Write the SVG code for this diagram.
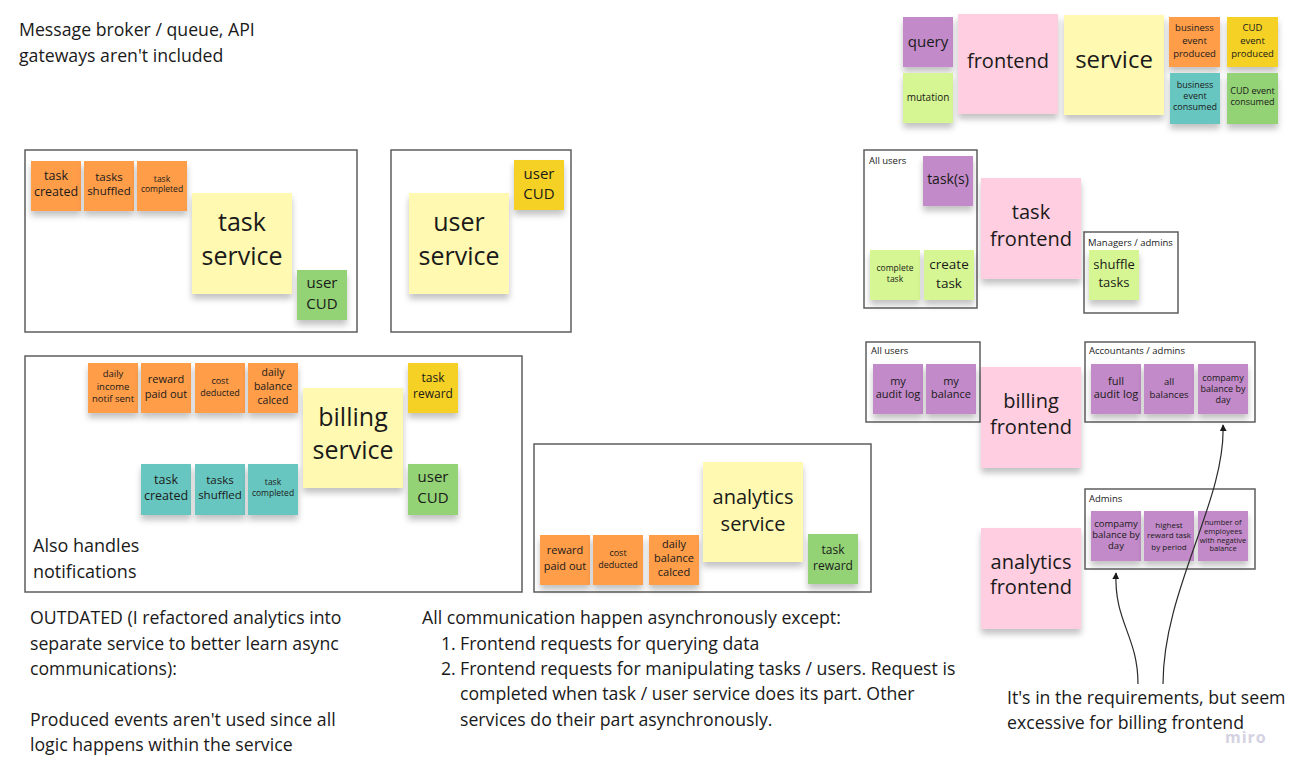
<svg xmlns="http://www.w3.org/2000/svg" width="1295" height="771" viewBox="0 0 1295 771">
<defs>
<filter id="sh" x="-20%" y="-20%" width="140%" height="150%">
<feDropShadow dx="0" dy="5" stdDeviation="3" flood-color="#000" flood-opacity="0.24"/>
</filter>
<marker id="ah" viewBox="0 0 10 10" refX="9" refY="5" markerWidth="7" markerHeight="7" orient="auto-start-reverse" markerUnits="userSpaceOnUse">
<path d="M0,0 L10,5 L0,10 z" fill="#1a1a1a"/>
</marker>
</defs>
<style>
text{font-family:"Open Sans","Noto Sans","Liberation Sans",sans-serif;fill:#1a1a1a}
.st text{text-anchor:middle}
.st rect{filter:url(#sh)}
.or{fill:#ff9d48}
.ye{fill:#f5d128}
.te{fill:#67c6c0}
.gr{fill:#93d275}
.lg{fill:#d5f692}
.pu{fill:#c28ac8}
.pk{fill:#ffcee0}
.ly{fill:#fff9b1}
.frame{fill:#fff;stroke:#5e5e5e;stroke-width:1.5}
.lbl{font-size:9.5px}
.note{font-size:17.7px}
.conn{fill:none;stroke:#2a2a2a;stroke-width:1.2}
</style>
<rect width="1295" height="771" fill="#fff"/>

<g id="note-top">
<text class="note" x="19" y="36">Message broker / queue, API</text>
<text class="note" x="19" y="62">gateways aren't included</text>
</g>

<!-- legend -->
<g id="legend" class="st">
<g id="lg-query"><rect class="pu" x="903" y="17" width="50" height="50"/><text x="928" y="47" font-size="15">query</text></g>
<g id="lg-mutation"><rect class="lg" x="903" y="73" width="50" height="50"/><text x="928" y="100.5" font-size="10">mutation</text></g>
<g id="lg-frontend"><rect class="pk" x="958" y="14" width="100" height="100"/><text x="1008" y="68" font-size="20">frontend</text></g>
<g id="lg-service"><rect class="ly" x="1064" y="15" width="100" height="100"/><text x="1114" y="68" font-size="24">service</text></g>
<g id="lg-bep"><rect class="or" x="1169" y="17" width="51" height="50"/><text x="1194.5" font-size="9.5"><tspan x="1194.5" y="31">business</tspan><tspan x="1194.5" y="44">event</tspan><tspan x="1194.5" y="56.5">produced</tspan></text></g>
<g id="lg-cep"><rect class="ye" x="1227" y="17" width="51" height="50"/><text x="1252.5" font-size="9.5"><tspan x="1252.5" y="31">CUD</tspan><tspan x="1252.5" y="44">event</tspan><tspan x="1252.5" y="56.5">produced</tspan></text></g>
<g id="lg-bec"><rect class="te" x="1170" y="73" width="50" height="51"/><text x="1195" font-size="9"><tspan x="1195" y="87.5">business</tspan><tspan x="1195" y="99">event</tspan><tspan x="1195" y="110">consumed</tspan></text></g>
<g id="lg-cec"><rect class="gr" x="1227" y="73" width="51" height="51"/><text x="1252.5" font-size="9"><tspan x="1252.5" y="94">CUD event</tspan><tspan x="1252.5" y="105">consumed</tspan></text></g>
</g>

<!-- task service -->
<g id="task-service-group">
<rect class="frame" x="25" y="150" width="332" height="182"/>
<g class="st">
<g id="ts-task-created"><rect class="or" x="31" y="161" width="50" height="50"/><text font-size="12.5"><tspan x="56" y="180">task</tspan><tspan x="56" y="195.5">created</tspan></text></g>
<g id="ts-tasks-shuffled"><rect class="or" x="84" y="161" width="50" height="50"/><text font-size="11.5"><tspan x="109" y="181.3">tasks</tspan><tspan x="109" y="194.7">shuffled</tspan></text></g>
<g id="ts-task-completed"><rect class="or" x="137" y="161" width="50" height="50"/><text font-size="8.5"><tspan x="162" y="182">task</tspan><tspan x="162" y="192.3">completed</tspan></text></g>
<g id="task-service"><rect class="ly" x="192" y="193" width="100" height="101"/><text font-size="25"><tspan x="242" y="231">task</tspan><tspan x="242" y="265">service</tspan></text></g>
<g id="ts-user-cud"><rect class="gr" x="297" y="270" width="50" height="50"/><text font-size="15"><tspan x="322" y="288">user</tspan><tspan x="322" y="309.3">CUD</tspan></text></g>
</g>
</g>

<!-- user service -->
<g id="user-service-group">
<rect class="frame" x="391" y="150" width="180" height="182"/>
<g class="st">
<g id="user-service"><rect class="ly" x="409" y="193" width="100" height="101"/><text font-size="25"><tspan x="459" y="231">user</tspan><tspan x="459" y="265">service</tspan></text></g>
<g id="us-user-cud"><rect class="ye" x="514" y="160" width="50" height="50"/><text font-size="15"><tspan x="539" y="178.5">user</tspan><tspan x="539" y="199.3">CUD</tspan></text></g>
</g>
</g>

<!-- billing service -->
<g id="billing-service-group">
<rect class="frame" x="25" y="356" width="497" height="236"/>
<g class="st">
<g id="bs-daily-income"><rect class="or" x="88" y="363" width="50" height="50"/><text font-size="9.5"><tspan x="113" y="377.3">daily</tspan><tspan x="113" y="390">income</tspan><tspan x="113" y="402">notif sent</tspan></text></g>
<g id="bs-reward-paid"><rect class="or" x="141" y="363" width="50" height="50"/><text font-size="11"><tspan x="166" y="383">reward</tspan><tspan x="166" y="398">paid out</tspan></text></g>
<g id="bs-cost-deducted"><rect class="or" x="195" y="363" width="50" height="50"/><text font-size="9"><tspan x="220" y="384">cost</tspan><tspan x="220" y="396">deducted</tspan></text></g>
<g id="bs-daily-balance"><rect class="or" x="248" y="363" width="50" height="50"/><text font-size="10.5"><tspan x="273" y="376">daily</tspan><tspan x="273" y="389.7">balance</tspan><tspan x="273" y="403.7">calced</tspan></text></g>
<g id="billing-service"><rect class="ly" x="303" y="388" width="100" height="100"/><text font-size="25"><tspan x="353" y="425.5">billing</tspan><tspan x="353" y="459">service</tspan></text></g>
<g id="bs-task-reward"><rect class="ye" x="408" y="363" width="50" height="50"/><text font-size="12"><tspan x="433" y="381.5">task</tspan><tspan x="433" y="398">reward</tspan></text></g>
<g id="bs-task-created"><rect class="te" x="141" y="464" width="50" height="51"/><text font-size="12.5"><tspan x="166" y="483.7">task</tspan><tspan x="166" y="499.7">created</tspan></text></g>
<g id="bs-tasks-shuffled"><rect class="te" x="195" y="464" width="50" height="51"/><text font-size="11.5"><tspan x="220" y="484">tasks</tspan><tspan x="220" y="499">shuffled</tspan></text></g>
<g id="bs-task-completed"><rect class="te" x="248" y="464" width="50" height="51"/><text font-size="8.5"><tspan x="273" y="485">task</tspan><tspan x="273" y="495.7">completed</tspan></text></g>
<g id="bs-user-cud"><rect class="gr" x="408" y="464" width="50" height="51"/><text font-size="15"><tspan x="433" y="482">user</tspan><tspan x="433" y="503">CUD</tspan></text></g>
</g>
<text x="33" y="552" font-size="18">Also handles</text>
<text x="33" y="577.5" font-size="18">notifications</text>
</g>

<!-- analytics service -->
<g id="analytics-service-group">
<rect class="frame" x="534" y="444" width="337" height="148"/>
<g class="st">
<g id="as-reward-paid"><rect class="or" x="540" y="535" width="50" height="50"/><text font-size="11"><tspan x="565" y="554">reward</tspan><tspan x="565" y="569.7">paid out</tspan></text></g>
<g id="as-cost-deducted"><rect class="or" x="593" y="535" width="50" height="50"/><text font-size="9"><tspan x="618" y="555.5">cost</tspan><tspan x="618" y="567.5">deducted</tspan></text></g>
<g id="as-daily-balance"><rect class="or" x="649" y="535" width="50" height="50"/><text font-size="11"><tspan x="674" y="548">daily</tspan><tspan x="674" y="562">balance</tspan><tspan x="674" y="576">calced</tspan></text></g>
<g id="analytics-service"><rect class="ly" x="703" y="462" width="100" height="100"/><text font-size="20"><tspan x="753" y="503.7">analytics</tspan><tspan x="753" y="531">service</tspan></text></g>
<g id="as-task-reward"><rect class="gr" x="808" y="534" width="50" height="50"/><text font-size="12"><tspan x="833" y="553.5">task</tspan><tspan x="833" y="570">reward</tspan></text></g>
</g>
</g>

<!-- task frontend -->
<g id="task-frontend-group">
<rect class="frame" x="864" y="150" width="113" height="158"/>
<text class="lbl" x="869" y="164">All users</text>
<rect class="frame" x="1084" y="232" width="94" height="81"/>
<text class="lbl" x="1088" y="245.5">Managers / admins</text>
<g class="st">
<g id="tf-tasks"><rect class="pu" x="923" y="156" width="50" height="50"/><text x="948" y="184" font-size="14">task(s)</text></g>
<g id="tf-complete-task"><rect class="lg" x="870" y="250" width="50" height="50"/><text font-size="8.5"><tspan x="895" y="270.7">complete</tspan><tspan x="895" y="282.3">task</tspan></text></g>
<g id="tf-create-task"><rect class="lg" x="924" y="250" width="50" height="50"/><text font-size="13.5"><tspan x="949" y="269">create</tspan><tspan x="949" y="287.5">task</tspan></text></g>
<g id="task-frontend"><rect class="pk" x="981" y="178" width="100" height="101"/><text font-size="20"><tspan x="1031" y="218.7">task</tspan><tspan x="1031" y="246">frontend</tspan></text></g>
<g id="tf-shuffle-tasks"><rect class="lg" x="1089" y="250" width="50" height="50"/><text font-size="13"><tspan x="1114" y="269">shuffle</tspan><tspan x="1114" y="287">tasks</tspan></text></g>
</g>
</g>

<!-- billing frontend -->
<g id="billing-frontend-group">
<rect class="frame" x="866" y="342" width="114" height="80"/>
<text class="lbl" x="871" y="354">All users</text>
<rect class="frame" x="1085" y="342" width="170" height="80"/>
<text class="lbl" x="1089" y="354">Accountants / admins</text>
<g class="st">
<g id="bf-my-audit"><rect class="pu" x="873" y="364" width="50" height="50"/><text font-size="11"><tspan x="898" y="384.5">my</tspan><tspan x="898" y="398">audit log</tspan></text></g>
<g id="bf-my-balance"><rect class="pu" x="926" y="364" width="50" height="50"/><text font-size="11"><tspan x="951" y="384.5">my</tspan><tspan x="951" y="398">balance</tspan></text></g>
<g id="billing-frontend"><rect class="pk" x="981" y="367" width="100" height="101"/><text font-size="20"><tspan x="1031" y="407.7">billing</tspan><tspan x="1031" y="433.7">frontend</tspan></text></g>
<g id="bf-full-audit"><rect class="pu" x="1091" y="364" width="50" height="50"/><text font-size="11"><tspan x="1116" y="384.5">full</tspan><tspan x="1116" y="398">audit log</tspan></text></g>
<g id="bf-all-balances"><rect class="pu" x="1144" y="364" width="50" height="50"/><text font-size="9.5"><tspan x="1169" y="385">all</tspan><tspan x="1169" y="397.5">balances</tspan></text></g>
<g id="bf-company-balance"><rect class="pu" x="1198" y="364" width="50" height="50"/><text font-size="9"><tspan x="1223" y="380.5">compamy</tspan><tspan x="1223" y="391.5">balance by</tspan><tspan x="1223" y="402.5">day</tspan></text></g>
</g>
</g>

<!-- analytics frontend -->
<g id="analytics-frontend-group">
<rect class="frame" x="1085" y="489" width="170" height="80"/>
<text class="lbl" x="1089" y="502">Admins</text>
<g class="st">
<g id="analytics-frontend"><rect class="pk" x="981" y="528" width="100" height="101"/><text font-size="20"><tspan x="1031" y="568.7">analytics</tspan><tspan x="1031" y="594.3">frontend</tspan></text></g>
<g id="af-company-balance"><rect class="pu" x="1091" y="511" width="50" height="50"/><text font-size="9.5"><tspan x="1116" y="527.3">compamy</tspan><tspan x="1116" y="538.3">balance by</tspan><tspan x="1116" y="549">day</tspan></text></g>
<g id="af-highest-reward"><rect class="pu" x="1144" y="511" width="50" height="50"/><text font-size="8"><tspan x="1169" y="528">highest</tspan><tspan x="1169" y="538">reward task</tspan><tspan x="1169" y="549.5">by period</tspan></text></g>
<g id="af-negative-balance"><rect class="pu" x="1198" y="511" width="50" height="50"/><text font-size="7.5"><tspan x="1223" y="525.3">number of</tspan><tspan x="1223" y="534.3">employees</tspan><tspan x="1223" y="542.7">with negative</tspan><tspan x="1223" y="551">balance</tspan></text></g>
</g>
</g>

<!-- connectors -->
<g id="connectors">
<path class="conn" d="M1138,684 C1138,636 1114,622 1116,573" marker-end="url(#ah)"/>
<path class="conn" d="M1163,684 C1163,590 1226,500 1223,425" marker-end="url(#ah)"/>
</g>

<!-- notes -->
<g id="note-outdated">
<text class="note" x="30" y="624">OUTDATED (I refactored analytics into</text>
<text class="note" x="30" y="649.5">separate service to better learn async</text>
<text class="note" x="30" y="675">communications):</text>
<text class="note" x="30" y="726">Produced events aren't used since all</text>
<text class="note" x="30" y="751">logic happens within the service</text>
</g>
<g id="note-async">
<text class="note" x="422" y="624">All communication happen asynchronously except:</text>
<text class="note" x="441" y="649.5">1.</text><text class="note" x="460" y="649.5">Frontend requests for querying data</text>
<text class="note" x="441" y="675">2.</text><text class="note" x="460" y="675">Frontend requests for manipulating tasks / users. Request is</text>
<text class="note" x="460" y="700">completed when task / user service does its part. Other</text>
<text class="note" x="460" y="725.5">services do their part asynchronously.</text>
</g>
<g id="note-requirements">
<text class="note" x="1007" y="704">It's in the requirements, but seem</text>
<text class="note" x="1007" y="729">excessive for billing frontend</text>
</g>
<text x="1225" y="743" font-size="16" font-weight="bold" style="fill:#d4d2e2;letter-spacing:1px">miro</text>
</svg>
